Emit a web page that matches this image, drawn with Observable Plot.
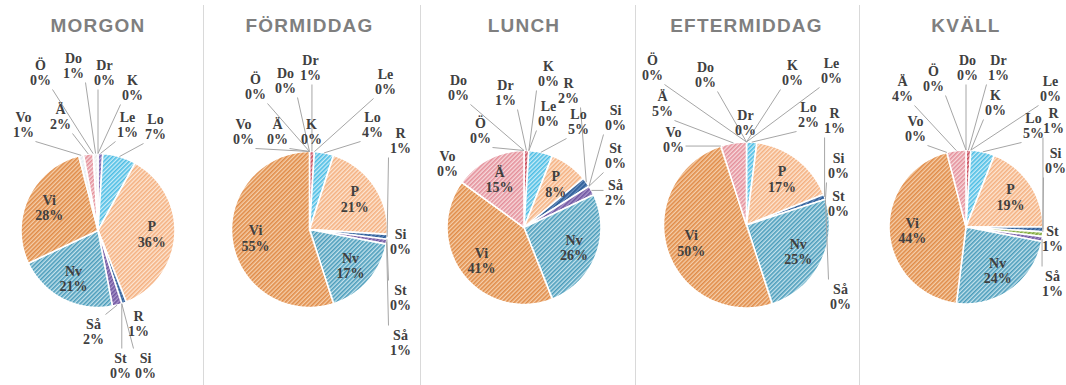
<!DOCTYPE html>
<html>
<head>
<meta charset="utf-8">
<script src="https://cdn.jsdelivr.net/npm/d3@7"></script>
<script src="https://cdn.jsdelivr.net/npm/@observablehq/plot@0.6"></script>
<style>
  html, body { margin: 0; padding: 0; background: #fff; }
  #chart svg { display: block; }
</style>
</head>
<body>
<div id="chart"></div>
<script>
// Share of activities (%) per time of day, slices clockwise from twelve o'clock
const periods = ["MORGON", "FÖRMIDDAG", "LUNCH", "EFTERMIDDAG", "KVÄLL"];
const categories = ["Dr", "K", "Le", "Lo", "P", "R", "Si", "St", "Så", "Nv", "Vi", "Vo", "Ä", "Ö", "Do"];
const morgon      = [0, 0, 1, 7, 36, 1, 0, 0, 2, 21, 28, 1, 2, 0, 1];
const formiddag   = [1, 0, 0, 4, 21, 1, 0, 0, 1, 17, 55, 0, 0, 0, 0];
const lunch       = [1, 0, 0, 5, 8, 2, 0, 0, 2, 26, 41, 0, 15, 0, 0];
const eftermiddag = [0, 0, 0, 2, 17, 1, 0, 0, 0, 25, 50, 0, 5, 0, 0];
const kvall       = [1, 0, 0, 5, 19, 1, 0, 1, 1, 24, 44, 0, 4, 0, 0];
const seriesByPeriod = [morgon, formiddag, lunch, eftermiddag, kvall];

// Diagonal hatch per category: [stripe colour, gap colour]
const hatch = {
  Dr: ["#c94a5a", "#eab3ba"],
  K:  ["#a5a5a5", "#dcdcdc"],
  Le: ["#7d64ad", "#bcaed8"],
  Lo: ["#4cbde4", "#c9ecf8"],
  P:  ["#f4b080", "#fde6d3"],
  R:  ["#2a5a94", "#6a90c0"],
  Si: ["#3fa6c2", "#a8d8e6"],
  St: ["#7da53a", "#bcd68e"],
  "Så": ["#6f55a0", "#ab98cc"],
  Nv: ["#4b9cbb", "#c4e2ec"],
  Vi: ["#e08b48", "#f5cfab"],
  Vo: ["#e6ebf1", "#f8fafc"],
  "Ä": ["#e48f9a", "#f7dadd"],
  "Ö": ["#c8c8c8", "#ececec"],
  Do: ["#ececec", "#fbfbfb"]
};

// Pie placement per panel (pixels)
const pies = [
  {cx: 97.5, cy: 230, r: 77},
  {cx: 309, cy: 229, r: 78},
  {cx: 523.5, cy: 227, r: 77},
  {cx: 746, cy: 224.5, r: 83},
  {cx: 965.5, cy: 226.5, r: 77}
];
const dividers = [203, 420, 635, 859];
const titleY = 25;
const insideMin = 8;      // slices of at least this share carry their label inside
const insideRadius = 0.7; // inside labels sit at this fraction of the radius

// Outside label spots, as offsets from the pie centre
const labelSpots = [
  {"Ö": [-57.5, -158], Do: [-24.5, -165], Dr: [6.5, -158], K: [34.5, -143], Vo: [-74.5, -106],
   "Ä": [-37.5, -114], Le: [29.5, -106], Lo: [57.5, -104], "Så": [-4.5, 101], R: [40.5, 93],
   St: [22.5, 135], Si: [47.5, 135]},
  {Dr: [1, -162], Do: [-24, -149], "Ö": [-54, -143], Vo: [-66, -98], "Ä": [-32, -98], K: [2, -98],
   Le: [76, -148], Lo: [63, -105], R: [91, -89], Si: [91, 12], St: [91, 68], "Så": [91, 113]},
  {K: [24.5, -154], R: [44.5, -137], Dr: [-18.5, -135], Do: [-65.5, -140], Le: [24.5, -114],
   Lo: [54.5, -106], Si: [91.5, -110], St: [91.5, -72], "Så": [91.5, -35], "Ö": [-43.5, -97],
   Vo: [-76.5, -64]},
  {"Ö": [-94, -157.5], Do: [-41, -150.5], K: [46, -152.5], Le: [85, -154.5], "Ä": [-84, -121.5],
   Dr: [-1, -102.5], Lo: [62, -110.5], R: [88, -104.5], Vo: [-73, -85.5], Si: [92, -59.5],
   St: [92, -21.5], "Så": [94, 71.5]},
  {Do: [1.5, -159.5], Dr: [32.5, -159.5], "Ö": [-32.5, -148.5], "Ä": [-63.5, -138.5], K: [29.5, -124.5],
   Le: [84.5, -138.5], Vo: [-50.5, -98.5], Lo: [67.5, -101.5], R: [87.5, -106.5], Si: [89.5, -66.5],
   St: [86.5, 11.5], "Så": [86.5, 56.5]}
];

const slicePts = [], labels = [], leaders = [], titles = [];
const clamp = (v, lo, hi) => Math.max(lo, Math.min(hi, v));

periods.forEach((period, i) => {
  const {cx, cy, r} = pies[i];
  const rows = categories.map((cat, j) => ({cat, j, value: seriesByPeriod[i][j]}));
  const arcs = d3.pie().sort(null).value(d => d.value)(rows);
  arcs.forEach(a => {
    const {cat, j, value} = a.data;
    const id = `${i}-${j}`;
    if (value > 0) {
      const fill = `url(#hatch-${j})`;
      const steps = Math.max(2, Math.ceil((a.endAngle - a.startAngle) / (Math.PI / 180)));
      slicePts.push({id, fill, x: cx, y: cy});
      for (let k = 0; k <= steps; k++) {
        const t = a.startAngle + (a.endAngle - a.startAngle) * k / steps;
        slicePts.push({id, fill, x: cx + r * Math.sin(t), y: cy - r * Math.cos(t)});
      }
      slicePts.push({id, fill, x: cx, y: cy});
    }
    const mid = (a.startAngle + a.endAngle) / 2;
    const text = `${cat}\n${value}%`;
    if (value >= insideMin) {
      labels.push({text, x: cx + insideRadius * r * Math.sin(mid), y: cy - insideRadius * r * Math.cos(mid)});
    } else {
      const [dx, dy] = labelSpots[i][cat];
      const lx = cx + dx, ly = cy + dy;
      labels.push({text, x: lx, y: ly});
      const ex = cx + r * Math.sin(mid), ey = cy - r * Math.cos(mid);
      const w = 24, h = 34;
      const px = clamp(ex, lx - w / 2, lx + w / 2);
      const py = clamp(ey, ly - h / 2, ly + h / 2);
      if (Math.hypot(ex - px, ey - py) > 6) leaders.push({x1: px, y1: py, x2: ex, y2: ey});
    }
  });
  titles.push({text: period, x: cx, y: titleY});
});

const svg = Plot.plot({
  width: 1066,
  height: 385,
  margin: 0,
  x: {domain: [0, 1066], range: [0, 1066], axis: null},
  y: {domain: [0, 385], range: [0, 385], axis: null},
  color: {type: "identity"},
  style: {background: "#fff"},
  marks: [
    Plot.ruleX(dividers, {x: d => d, y1: 5, y2: 385, stroke: "#d9d9d9", strokeWidth: 1}),
    Plot.line(slicePts, {x: "x", y: "y", z: "id", fill: "fill", stroke: "#fff", strokeWidth: 1.6, strokeLinejoin: "round", curve: "linear"}),
    Plot.link(leaders, {x1: "x1", y1: "y1", x2: "x2", y2: "y2", stroke: "#a6a6a6", strokeWidth: 1}),
    Plot.text(labels, {x: "x", y: "y", text: "text", fontFamily: "Liberation Serif", fontWeight: "bold", fontSize: 14, lineHeight: 1.12, fill: "#404040"}),
    Plot.text(titles, {x: "x", y: "y", text: "text", fontFamily: "Liberation Sans", fontWeight: "bold", fontSize: 19, fill: "#7f7f7f"})
  ]
});

// Hatch patterns used by the slices
const defs = d3.create("svg:defs");
categories.forEach((cat, j) => {
  const [stripe, gap] = hatch[cat];
  const p = defs.append("pattern")
    .attr("id", `hatch-${j}`)
    .attr("patternUnits", "userSpaceOnUse")
    .attr("width", 3).attr("height", 3)
    .attr("patternTransform", "rotate(45)");
  p.append("rect").attr("width", 3).attr("height", 3).attr("fill", gap);
  p.append("rect").attr("width", 1.6).attr("height", 3).attr("fill", stripe);
});
svg.insertBefore(defs.node(), svg.firstChild);

// Letter-spaced panel titles
d3.select(svg).selectAll("text")
  .filter(function () { return periods.includes(this.textContent); })
  .attr("letter-spacing", "1.2");

document.getElementById("chart").appendChild(svg);
</script>
</body>
</html>
